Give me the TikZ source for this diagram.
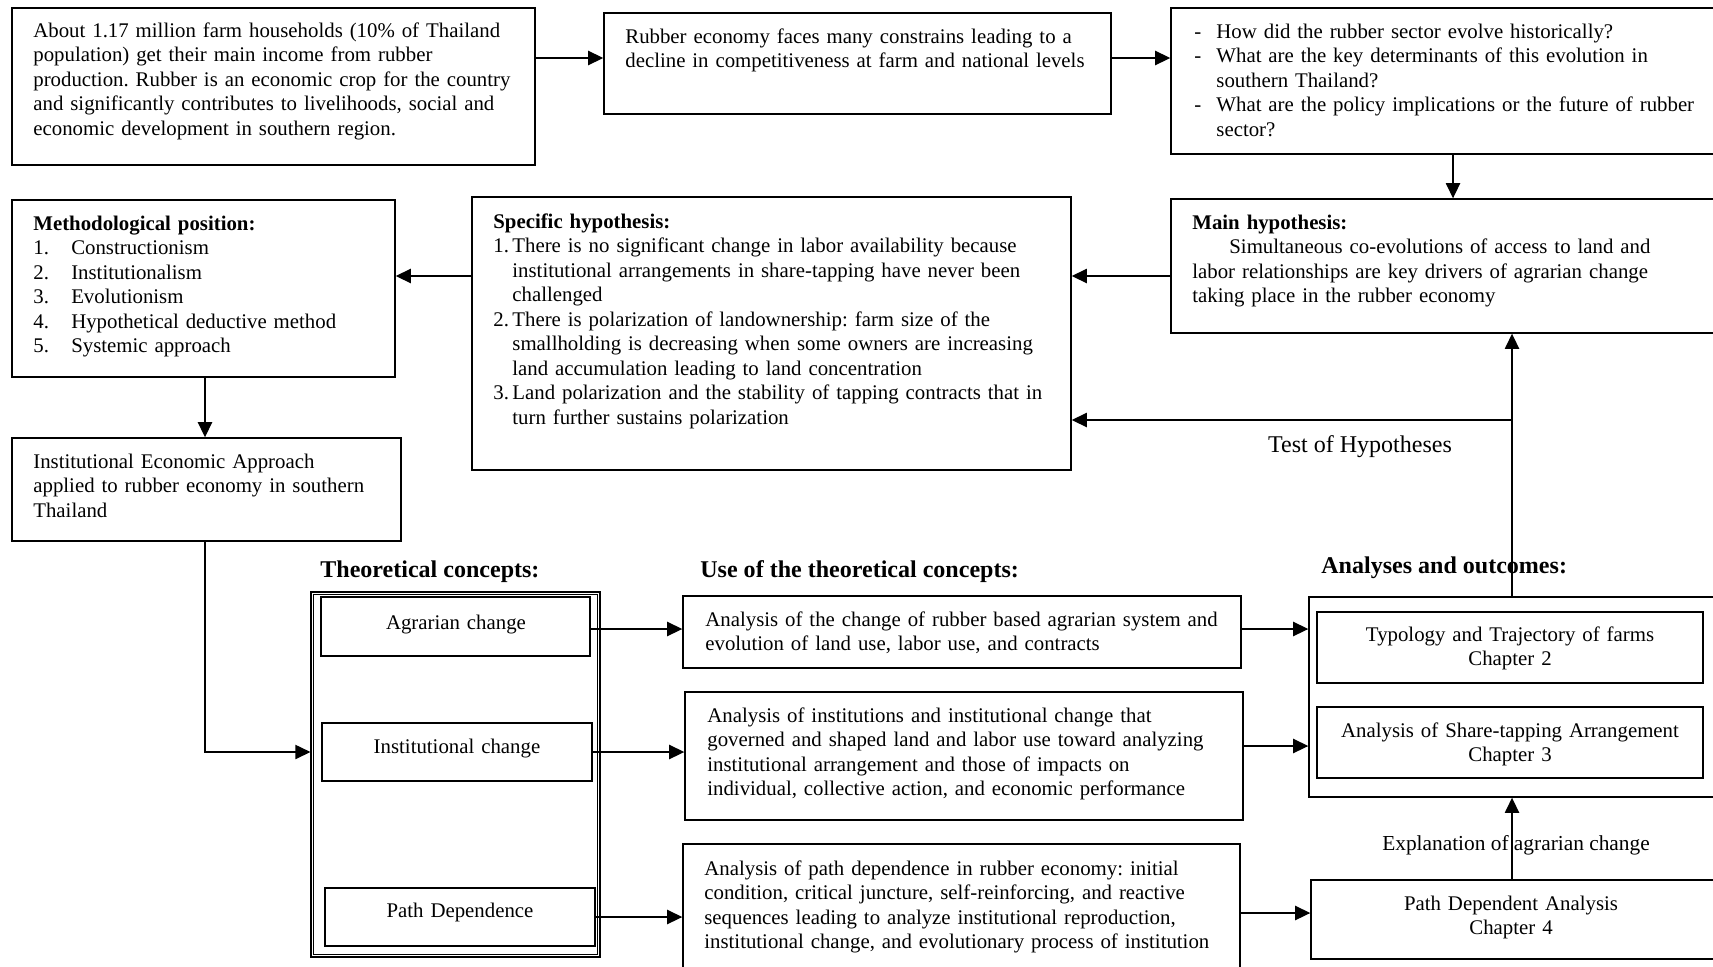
\documentclass[tikz,border=0pt]{standalone}
\usepackage{fontspec}
\setmainfont{Liberation Serif}
\usetikzlibrary{arrows.meta,fit}
\newcommand\mfs{\fontsize{11.7}{13.8}\selectfont\frenchspacing}
\newcommand\hfs{\fontsize{13.5}{15}\selectfont\bfseries}
\begin{document}
\begin{tikzpicture}[x=0.5618pt,y=-0.5618pt,
  box/.style={draw, line width=0.8pt, inner sep=0pt},
  tbox/.style={draw, line width=0.6pt, inner sep=0pt},
  txt/.style={anchor=base west, inner sep=0pt, align=left, font=\mfs},
  ctxt/.style={anchor=base, inner sep=0pt, align=center, text width=220pt, font=\mfs},
  head/.style={anchor=base west, inner sep=0pt, font=\hfs},
  arr/.style={line width=0.8pt, -{Triangle[length=8.5pt,width=8pt]}},
  ln/.style={line width=0.8pt}]
\useasboundingbox (0,0) rectangle (1713,966);
\clip (0,0) rectangle (1713,966);
% boxes
\node[box, fit={(12,8) (535,165)}] (A) {};
\node[box, fit={(604,13) (1111,114)}] (B) {};
\node[box, fit={(1171,8) (1745,154)}] (C) {};
\node[box, fit={(1171,199) (1745,333)}] (D) {};
\node[box, fit={(472,197) (1071,470)}] (E) {};
\node[box, fit={(12,200) (395,377)}] (F) {};
\node[box, fit={(12,438) (401,541)}] (G) {};
\node[tbox, fit={(311,592) (600,957)}] (H) {};
\draw[tbox] ([shift={(3,3)}]H.north west) rectangle ([shift={(-3,-3)}]H.south east);
\node[box, fit={(321,597) (590,656)}] (H1) {};
\node[box, fit={(322,723) (592,781)}] (H2) {};
\node[box, fit={(325,888) (595,946)}] (H3) {};
\node[box, fit={(683,596) (1241,668)}] (U1) {};
\node[box, fit={(685,692) (1243,820)}] (U2) {};
\node[box, fit={(683,844) (1240,990)}] (U3) {};
\node[box, fit={(1309,597) (1745,797)}] (R) {};
\node[box, fit={(1317,612) (1703,683)}] (R1) {};
\node[box, fit={(1317,707) (1703,778)}] (R2) {};
\node[box, fit={(1311,880) (1745,959)}] (P) {};
% texts
\node[ctxt] (tH1) at (456,629) {Agrarian change};
\node[ctxt] (tH2) at (457,753) {Institutional change};
\node[ctxt] (tH3) at (460,917) {Path Dependence};
\node[ctxt] (tR1) at (1510,641) {Typology and Trajectory of farms\\Chapter 2};
\node[ctxt] (tR2) at (1510,737) {Analysis of Share-tapping Arrangement\\Chapter 3};
\node[ctxt] (tP) at (1511,910) {Path Dependent Analysis\\Chapter 4};
\node[txt, text width=300pt] (tA) at (33,37) {About 1.17 million farm households (10\% of Thailand\\
population) get their main income from rubber\\
production. Rubber is an economic crop for the country\\
and significantly contributes to livelihoods, social and\\
economic development in southern region.};
\node[txt, text width=300pt] (tB) at (625,43) {Rubber economy faces many constrains leading to a\\
decline in competitiveness at farm and national levels};
\node[txt, text width=330pt] (tC) at (1194,38) {\makebox[12.4pt][l]{-}How did the rubber sector evolve historically?\\
\makebox[12.4pt][l]{-}What are the key determinants of this evolution in\\
\hspace*{12.4pt}southern Thailand?\\
\makebox[12.4pt][l]{-}What are the policy implications or the future of rubber\\
\hspace*{12.4pt}sector?};
\node[txt, text width=320pt] (tD) at (1192,229) {\textbf{Main hypothesis:}\\
\hspace*{20.8pt}Simultaneous co-evolutions of access to land and\\
labor relationships are key drivers of agrarian change\\
taking place in the rubber economy};
\node[txt, text width=340pt] (tE) at (493,228) {\textbf{Specific hypothesis:}\\
\makebox[10.7pt][l]{1.}There is no significant change in labor availability because\\
\hspace*{10.7pt}institutional arrangements in share-tapping have never been\\
\hspace*{10.7pt}challenged\\
\makebox[10.7pt][l]{2.}There is polarization of landownership: farm size of the\\
\hspace*{10.7pt}smallholding is decreasing when some owners are increasing\\
\hspace*{10.7pt}land accumulation leading to land concentration\\
\makebox[10.7pt][l]{3.}Land polarization and the stability of tapping contracts that in\\
\hspace*{10.7pt}turn further sustains polarization};
\node[txt, text width=210pt] (tF) at (33,230) {\textbf{Methodological position:}\\
\makebox[21.3pt][l]{1.}Constructionism\\
\makebox[21.3pt][l]{2.}Institutionalism\\
\makebox[21.3pt][l]{3.}Evolutionism\\
\makebox[21.3pt][l]{4.}Hypothetical deductive method\\
\makebox[21.3pt][l]{5.}Systemic approach};
\node[txt, text width=210pt] (tG) at (33,468) {Institutional Economic Approach\\
applied to rubber economy in southern\\
Thailand};
\node[txt, text width=300pt] (tU1) at (705,626) {Analysis of the change of rubber based agrarian system and\\
evolution of land use, labor use, and contracts};
\node[txt, text width=300pt] (tU2) at (707,722) {Analysis of institutions and institutional change that\\
governed and shaped land and labor use toward analyzing\\
institutional arrangement and those of impacts on\\
individual, collective action, and economic performance};
\node[txt, text width=300pt] (tU3) at (704,875) {Analysis of path dependence in rubber economy: initial\\
condition, critical juncture, self-reinforcing, and reactive\\
sequences leading to analyze institutional reproduction,\\
institutional change, and evolutionary process of institution};
% headings and labels
\node[head] (hT) at (320,577) {Theoretical concepts:};
\node[head] (hU) at (700,577) {Use of the theoretical concepts:};
\node[head] (hR) at (1321,573) {Analyses and outcomes:};
\node[anchor=base, inner sep=0pt, font=\fontsize{13.5}{15}\selectfont] (lT) at (1360,452) {Test of Hypotheses};
\node[anchor=base, inner sep=0pt, font=\fontsize{12}{14}\selectfont] (lX) at (1516,850) {Explanation of agrarian change};
% connectors
\draw[arr] (A.east |- 0,58) -- (B.west |- 0,58);
\draw[arr] (B.east |- 0,58) -- (C.west |- 0,58);
\draw[arr] (C.south -| 1453,0) -- (D.north -| 1453,0);
\draw[arr] (D.west |- 0,276) -- (E.east |- 0,276);
\draw[arr] (E.west |- 0,276) -- (F.east |- 0,276);
\draw[arr] (F.south -| 205,0) -- (G.north -| 205,0);
\draw[arr] (G.south -| 205,0) |- (H.west |- 0,752);
\draw[arr] (H1.east |- 0,629) -- (U1.west |- 0,629);
\draw[arr] (H2.east |- 0,752) -- (U2.west |- 0,752);
\draw[arr] (H3.east |- 0,917) -- (U3.west |- 0,917);
\draw[arr] (U1.east |- 0,629) -- (R.west |- 0,629);
\draw[arr] (U2.east |- 0,746) -- (R.west |- 0,746);
\draw[arr] (U3.east |- 0,913) -- (P.west |- 0,913);
\draw[arr] (P.north -| 1512,0) -- (R.south -| 1512,0);
\draw[arr] (R.north -| 1512,0) -- (D.south -| 1512,0);
\coordinate (tb) at (1512,420);
\draw[arr] (tb) -- (E.east |- tb);
\end{tikzpicture}
\end{document}
